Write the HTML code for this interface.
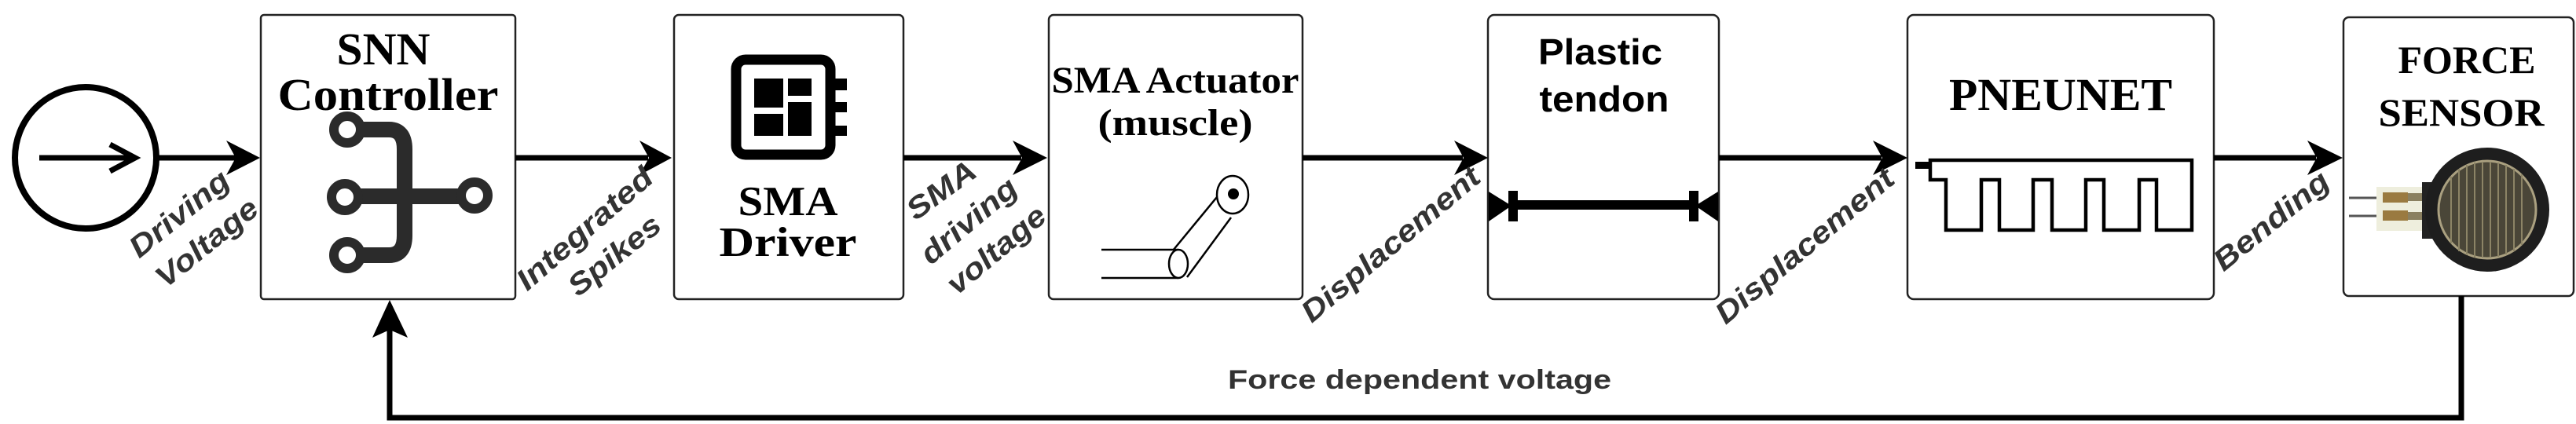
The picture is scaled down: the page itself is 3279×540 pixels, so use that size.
<!DOCTYPE html>
<html><head><meta charset="utf-8"><style>html,body{margin:0;padding:0;background:#fff}svg{display:block}</style></head>
<body>
<svg width="3279" height="540" viewBox="0 0 3279 540" xmlns="http://www.w3.org/2000/svg">
<defs>
<style>
.box{fill:#fff;stroke:#222;stroke-width:2.5}
.ser{font-family:"Liberation Serif",serif;font-weight:bold;fill:#000}
.san{font-family:"Liberation Sans",sans-serif;font-weight:bold;fill:#000}
.lab{font-family:"Liberation Sans",sans-serif;font-weight:bold;font-style:italic;fill:#333;font-size:38px}
.ln{stroke:#000;stroke-width:7;fill:none}
</style>
</defs>
<!-- boxes -->
<rect class="box" x="332" y="19" width="324" height="362" rx="4"/>
<rect class="box" x="858" y="19" width="292" height="362" rx="6"/>
<rect class="box" x="1335" y="19" width="323" height="362" rx="6"/>
<rect class="box" x="1894" y="19" width="294" height="362" rx="8"/>
<rect class="box" x="2428" y="19" width="390" height="362" rx="8"/>
<rect class="box" x="2983" y="22" width="293" height="355" rx="7"/>

<!-- source circle -->
<circle cx="109" cy="201" r="90" fill="#fff" stroke="#000" stroke-width="8"/>
<line x1="50" y1="201" x2="170" y2="201" stroke="#000" stroke-width="7"/>
<polyline points="140,184 172,201 140,218" fill="none" stroke="#000" stroke-width="7"/>

<!-- main arrows -->
<line class="ln" x1="200" y1="201" x2="300" y2="201"/>
<polygon points="288,179 331,201 288,223 300,201"/>
<line class="ln" x1="656" y1="201" x2="825" y2="201"/>
<polygon points="814,179 855,201 814,223 826,201"/>
<line class="ln" x1="1150" y1="201" x2="1300" y2="201"/>
<polygon points="1289,179 1333,201 1289,223 1301,201"/>
<line class="ln" x1="1658" y1="201" x2="1862" y2="201"/>
<polygon points="1851,179 1894,201 1851,223 1863,201"/>
<line class="ln" x1="2188" y1="201" x2="2395" y2="201"/>
<polygon points="2384,179 2428,201 2384,223 2396,201"/>
<line class="ln" x1="2818" y1="201" x2="2948" y2="201"/>
<polygon points="2937,179 2982,201 2937,223 2949,201"/>

<!-- feedback -->
<polyline class="ln" points="3133,377 3133,532 496,532 496,420"/>
<polygon points="474,430 496,382 519,430 496,420"/>

<!-- SNN controller -->
<text class="ser" x="488" y="82" font-size="58" text-anchor="middle" textLength="119" lengthAdjust="spacingAndGlyphs">SNN</text>
<text class="ser" x="494" y="140" font-size="58" text-anchor="middle" textLength="281" lengthAdjust="spacingAndGlyphs">Controller</text>
<g stroke="#2b2b2b" fill="none">
<path d="M460,165 H495 Q515,165 515,190 V300 Q515,325 495,325 H460" stroke-width="20"/>
<line x1="457" y1="250" x2="586" y2="250" stroke-width="20"/>
<circle cx="442" cy="165" r="17" stroke-width="12" fill="#fff"/>
<circle cx="439" cy="251" r="17" stroke-width="12" fill="#fff"/>
<circle cx="442" cy="325" r="17" stroke-width="12" fill="#fff"/>
<circle cx="604" cy="249" r="17" stroke-width="12" fill="#fff"/>
</g>

<!-- SMA driver chip -->
<rect x="937" y="76" width="120" height="121" rx="12" fill="none" stroke="#000" stroke-width="13"/>
<rect x="960" y="100" width="37" height="37"/>
<rect x="1003" y="100" width="30" height="22"/>
<rect x="960" y="145" width="37" height="28"/>
<rect x="1003" y="130" width="30" height="43"/>
<rect x="1063" y="100" width="15" height="15"/>
<rect x="1063" y="130" width="15" height="13"/>
<rect x="1063" y="160" width="15" height="13"/>
<text class="ser" x="1003" y="274" font-size="53" text-anchor="middle" textLength="127" lengthAdjust="spacingAndGlyphs">SMA</text>
<text class="ser" x="1003" y="326" font-size="53" text-anchor="middle" textLength="175" lengthAdjust="spacingAndGlyphs">Driver</text>

<!-- SMA actuator -->
<text class="ser" x="1496" y="118" font-size="48" text-anchor="middle" textLength="315" lengthAdjust="spacingAndGlyphs">SMA Actuator</text>
<text class="ser" x="1496" y="172" font-size="48" text-anchor="middle" textLength="197" lengthAdjust="spacingAndGlyphs">(muscle)</text>
<g stroke="#000" stroke-width="2.5" fill="none">
<line x1="1402" y1="318" x2="1500" y2="318"/>
<line x1="1402" y1="354" x2="1500" y2="354"/>
<line x1="1493" y1="319" x2="1549" y2="251"/>
<line x1="1511" y1="353" x2="1567" y2="277"/>
<ellipse cx="1500" cy="336" rx="12" ry="18" fill="#fff"/>
<ellipse cx="1569" cy="248" rx="20" ry="24" fill="#fff"/>
</g>
<circle cx="1570" cy="247" r="7"/>

<!-- plastic tendon -->
<text class="san" x="2037" y="82" font-size="46" text-anchor="middle" textLength="158" lengthAdjust="spacingAndGlyphs">Plastic</text>
<text class="san" x="2042" y="142" font-size="46" text-anchor="middle" textLength="165" lengthAdjust="spacingAndGlyphs">tendon</text>
<line x1="1920" y1="261" x2="2162" y2="261" stroke="#000" stroke-width="12"/>
<polygon points="1895,244 1924,262 1895,282"/>
<rect x="1920" y="243" width="12" height="39"/>
<polygon points="2187,244 2158,262 2187,282"/>
<rect x="2150" y="243" width="12" height="39"/>

<!-- pneunet -->
<text class="ser" x="2623" y="140" font-size="58" text-anchor="middle" textLength="284" lengthAdjust="spacingAndGlyphs">PNEUNET</text>
<rect x="2438" y="206" width="19" height="9"/>
<path d="M2457,204 H2790 V293 H2745 V229 H2723 V293 H2678 V229 H2655 V293 H2612 V229 H2588 V293 H2545 V229 H2522 V293 H2477 V229 H2457 Z" fill="none" stroke="#000" stroke-width="4.5"/>

<!-- force sensor -->
<text class="ser" x="3140" y="93" font-size="50" text-anchor="middle" textLength="175" lengthAdjust="spacingAndGlyphs">FORCE</text>
<text class="ser" x="3133" y="160" font-size="50" text-anchor="middle" textLength="211" lengthAdjust="spacingAndGlyphs">SENSOR</text>
<line x1="2990" y1="252" x2="3035" y2="252" stroke="#555" stroke-width="3"/>
<line x1="2990" y1="275" x2="3035" y2="275" stroke="#555" stroke-width="3"/>
<rect x="3025" y="238" width="60" height="56" fill="#eeeedd"/>
<rect x="3060" y="246" width="35" height="10" fill="#8a8060"/>
<rect x="3060" y="270" width="35" height="10" fill="#8a8060"/>
<rect x="3033" y="245" width="32" height="13" fill="#9a7a40"/>
<rect x="3033" y="268" width="32" height="13" fill="#9a7a40"/>
<rect x="3083" y="232" width="20" height="72" fill="#222"/>
<circle cx="3166" cy="267" r="79" fill="#1e1e1e"/>
<circle cx="3166" cy="267" r="62" fill="#4a4638" stroke="#aaa080" stroke-width="3"/>
<g stroke="#8c8466" stroke-width="2">
<line x1="3120" y1="225" x2="3120" y2="310"/><line x1="3130" y1="215" x2="3130" y2="320"/>
<line x1="3140" y1="210" x2="3140" y2="325"/><line x1="3150" y1="207" x2="3150" y2="328"/>
<line x1="3160" y1="206" x2="3160" y2="328"/><line x1="3170" y1="206" x2="3170" y2="328"/>
<line x1="3180" y1="207" x2="3180" y2="327"/><line x1="3190" y1="210" x2="3190" y2="324"/>
<line x1="3200" y1="215" x2="3200" y2="320"/><line x1="3210" y1="222" x2="3210" y2="312"/>
</g>

<!-- rotated labels -->
<g class="lab">
<text transform="translate(228,272) rotate(-39)" y="13" text-anchor="middle" textLength="152" lengthAdjust="spacingAndGlyphs">Driving</text>
<text transform="translate(263,309) rotate(-39)" y="13" text-anchor="middle" textLength="156" lengthAdjust="spacingAndGlyphs">Voltage</text>
<text transform="translate(744,291) rotate(-41)" y="13" text-anchor="middle" textLength="216" lengthAdjust="spacingAndGlyphs">Integrated</text>
<text transform="translate(782,325) rotate(-39)" y="13" text-anchor="middle" textLength="140" lengthAdjust="spacingAndGlyphs">Spikes</text>
<text transform="translate(1198,242) rotate(-36)" y="13" text-anchor="middle" textLength="100" lengthAdjust="spacingAndGlyphs">SMA</text>
<text transform="translate(1233,281) rotate(-40)" y="13" text-anchor="middle" textLength="148" lengthAdjust="spacingAndGlyphs">driving</text>
<text transform="translate(1268,318) rotate(-40)" y="13" text-anchor="middle" textLength="152" lengthAdjust="spacingAndGlyphs">voltage</text>
<text transform="translate(1770,311) rotate(-40)" y="13" text-anchor="middle" textLength="284" lengthAdjust="spacingAndGlyphs">Displacement</text>
<text transform="translate(2297,313) rotate(-40)" y="13" text-anchor="middle" textLength="284" lengthAdjust="spacingAndGlyphs">Displacement</text>
<text transform="translate(2891,281) rotate(-39)" y="13" text-anchor="middle" textLength="177" lengthAdjust="spacingAndGlyphs">Bending</text>
</g>
<text x="1807" y="495" font-family="Liberation Sans,sans-serif" font-weight="bold" font-size="34" fill="#333" text-anchor="middle" textLength="488" lengthAdjust="spacingAndGlyphs">Force dependent voltage</text>
</svg>
</body></html>
